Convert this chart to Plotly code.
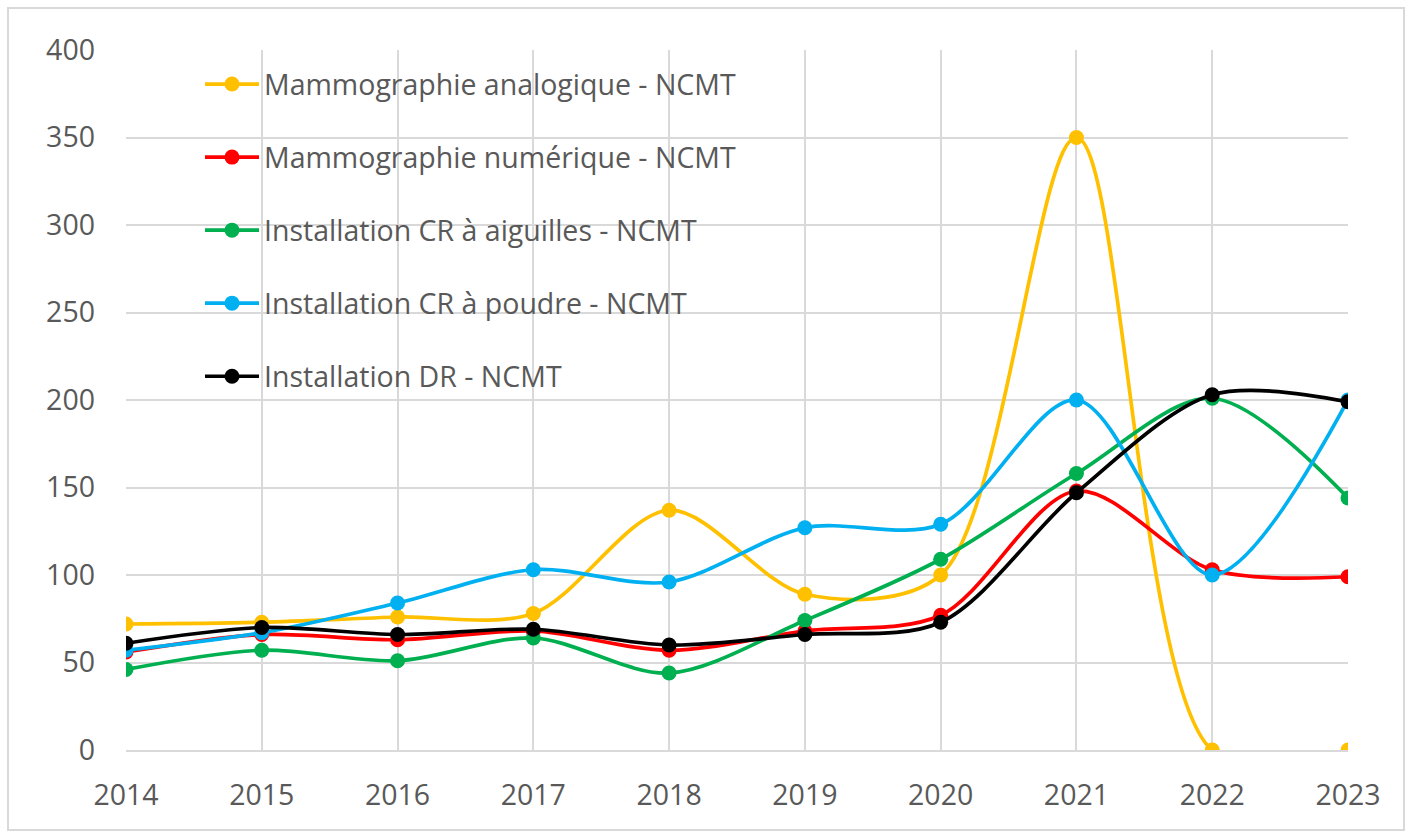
import plotly.graph_objects as go

years = [2014, 2015, 2016, 2017, 2018, 2019, 2020, 2021, 2022, 2023]

mammo_analogique = [72, 73, 76, 78, 137, 89, 100, 350, 0, 0]
mammo_numerique = [56, 66, 63, 68, 57, 68, 77, 148, 103, 99]
cr_aiguilles = [46, 57, 51, 64, 44, 74, 109, 158, 201, 144]
cr_poudre = [57, 67, 84, 103, 96, 127, 129, 200, 100, 200]
dr = [61, 70, 66, 69, 60, 66, 73, 147, 203, 199]

series_names = [
    "Mammographie analogique - NCMT",
    "Mammographie numérique - NCMT",
    "Installation CR à aiguilles - NCMT",
    "Installation CR à poudre - NCMT",
    "Installation DR - NCMT",
]
series_values = [mammo_analogique, mammo_numerique, cr_aiguilles, cr_poudre, dr]
series_colors = ["#FFC000", "#FF0000", "#00B050", "#00B0F0", "#000000"]

y_ticks = [0, 50, 100, 150, 200, 250, 300, 350, 400]

fig = go.Figure()
for i, (name, vals, col) in enumerate(zip(series_names, series_values, series_colors)):
    fig.add_trace(go.Scatter(
        x=years, y=vals, name=name, mode="lines+markers",
        line=dict(color=col, width=3.7, shape="spline", smoothing=0.9),
        marker=dict(color=col, size=15),
        legendgroup=f"g{i}",
    ))

font_family = "Open Sans, Liberation Sans, sans-serif"
text_color = "#595959"
fs = 28.5

L, R, T, B = 126, 63, 50, 87
W, H = 1411, 837
pw, ph = W - L - R, H - T - B

fig.update_layout(
    width=W, height=H,
    margin=dict(l=L, r=R, t=T, b=B),
    paper_bgcolor="white", plot_bgcolor="white",
    font=dict(family=font_family, color=text_color, size=fs),
    showlegend=True,
    legend=dict(
        x=(200 - L) / pw, y=1 - (59 - T) / ph, xanchor="left", yanchor="top",
        bgcolor="rgba(0,0,0,0)", borderwidth=0,
        font=dict(size=fs, color=text_color, family=font_family),
        tracegroupgap=33,
        itemwidth=54,
    ),
    xaxis=dict(
        range=[2014, 2023], tickmode="array", tickvals=years,
        ticktext=[str(y) for y in years],
        showgrid=True, gridcolor="#D9D9D9", gridwidth=1.5,
        showline=True, linecolor="#D9D9D9", linewidth=1.5,
        zeroline=False, ticks="", ticklabelstandoff=19,
        tickfont=dict(size=fs, color=text_color),
    ),
    yaxis=dict(
        range=[0, 400], tickmode="array", tickvals=y_ticks,
        showgrid=True, gridcolor="#D9D9D9", gridwidth=1.5,
        zeroline=False, showline=False, ticks="", ticklabelstandoff=30,
        tickfont=dict(size=fs, color=text_color),
    ),
    shapes=[dict(
        type="rect", xref="paper", yref="paper",
        x0=(8 - L) / pw, x1=(1404 - L) / pw,
        y0=(T + ph - 830) / ph, y1=(T + ph - 8) / ph,
        line=dict(color="#D9D9D9", width=2), fillcolor="rgba(0,0,0,0)",
        layer="below",
    )],
)

fig.write_html("out.html", config={"displayModeBar": False},
               post_script="document.body.style.margin='0';")
